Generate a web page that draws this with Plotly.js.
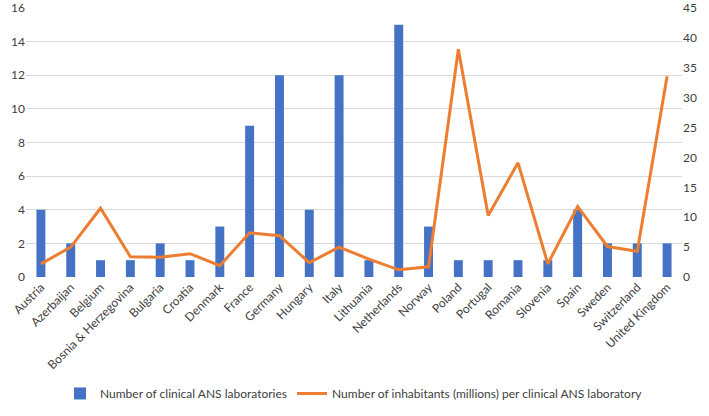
<!DOCTYPE html>
<html>
<head>
<meta charset="utf-8">
<script src="https://cdn.plot.ly/plotly-3.0.1.min.js"></script>
<style>html,body{margin:0;padding:0;background:#fff}</style>
</head>
<body>
<div id="chart" style="width:709px;height:416px"></div>
<script>
const countries = ['Austria', 'Azerbaijan', 'Belgium', 'Bosnia & Herzegovina', 'Bulgaria', 'Croatia',
    'Denmark', 'France', 'Germany', 'Hungary', 'Italy', 'Lithuania', 'Netherlands', 'Norway',
    'Poland', 'Portugal', 'Romania', 'Slovenia', 'Spain', 'Sweden', 'Switzerland', 'United Kingdom'];
const labs = [4, 2, 1, 1, 2, 1, 3, 9, 12, 4, 12, 1, 15, 3, 1, 1, 1, 1, 4, 2, 2, 2];
const inhabitantsPerLab = [2.2, 5.0, 11.5, 3.4, 3.3, 3.9, 1.9, 7.4, 6.9, 2.4, 5.0, 3.0, 1.2, 1.7,
    38.1, 10.3, 19.1, 2.2, 11.8, 5.1, 4.3, 33.6];

const FONT = { family: 'Lato, "Open Sans", sans-serif', color: '#404040', size: 12 };

const traces = [
    {
        type: 'bar', x: countries, y: labs, name: 'Number of clinical ANS laboratories',
        marker: { color: '#4472C4' }, yaxis: 'y',
    },
    {
        type: 'scatter', mode: 'lines', x: countries, y: inhabitantsPerLab,
        name: 'Number of inhabitants (millions) per clinical ANS laboratory',
        line: { color: '#ED7D31', width: 3 }, yaxis: 'y2',
    },
];

const layout = {
    width: 709, height: 416,
    paper_bgcolor: 'white', plot_bgcolor: 'white',
    font: FONT,
    margin: { l: 26, r: 27, t: 8, b: 131 },
    bargap: 0.7,
    xaxis: { tickangle: -45, showgrid: false, zeroline: false, showline: false, ticks: '',
        tickfont: { size: 12, color: '#404040' } },
    yaxis: { range: [0, 16], dtick: 2, showgrid: true, gridcolor: '#d9d9d9', gridwidth: 1,
        zeroline: false, showline: false, ticks: '', tickfont: { size: 12, color: '#404040' } },
    yaxis2: { range: [0, 45], dtick: 5, overlaying: 'y', side: 'right', showgrid: false,
        zeroline: false, showline: false, ticks: '', tickfont: { size: 12, color: '#404040' } },
    showlegend: true,
    legend: { orientation: 'h', x: 0.5, xanchor: 'center', y: -0.433, yanchor: 'middle',
        font: { size: 12, color: '#404040' }, traceorder: 'normal' },
};

Plotly.newPlot('chart', traces, layout, { displayModeBar: false });
</script>
</body>
</html>
